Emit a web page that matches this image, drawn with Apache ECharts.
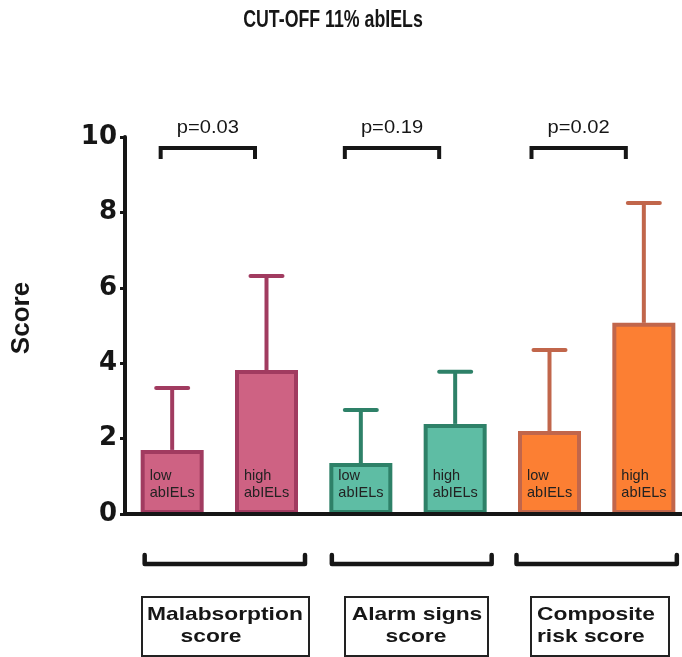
<!DOCTYPE html>
<html>
<head>
<meta charset="utf-8">
<script src="https://cdn.jsdelivr.net/npm/echarts@6/dist/echarts.min.js"></script>
<style>
  html, body { margin: 0; padding: 0; background: #ffffff; }
  #chart { width: 682px; height: 657px; }
</style>
</head>
<body>
<div id="chart"></div>
<script>
// ---- data ----
const chartTitle = 'CUT-OFF 11% abIELs';
const yAxisTitle = 'Score';
const categories = ['Malabsorption low', 'Malabsorption high', 'Alarm signs low', 'Alarm signs high', 'Composite low', 'Composite high'];
const barLabels = ['low\nabIELs', 'high\nabIELs', 'low\nabIELs', 'high\nabIELs', 'low\nabIELs', 'high\nabIELs'];
const meanScores = [1.70, 3.82, 1.35, 2.39, 2.20, 5.07];
const upperErrors = [3.34, 6.31, 2.76, 3.77, 4.35, 8.25];
const yTicks = [0, 2, 4, 6, 8, 10];
const pValues = ['p=0.03', 'p=0.19', 'p=0.02'];
const groupNames = [['Malabsorption', 'score'], ['Alarm signs', 'score'], ['Composite', 'risk score']];

// ---- styling ----
const fills   = ['#CE6283', '#CE6283', '#5EBDA4', '#5EBDA4', '#FC7F33', '#FC7F33'];
const borders = ['#A13B60', '#A13B60', '#2E8168', '#2E8168', '#C1664B', '#C1664B'];
const ink = '#161616';
const sans = '"Liberation Sans", Arial, sans-serif';

const chart = echarts.init(document.getElementById('chart'), null, { renderer: 'canvas' });

chart.setOption({
  animation: false,
  backgroundColor: '#ffffff',
  // the plotting band runs a little past the right edge of the canvas
  grid: { left: 125, top: 137, width: 566, height: 377, containLabel: false, outerBoundsMode: 'none' },
  xAxis: {
    type: 'category',
    data: categories,
    z: 10,
    axisLine: { lineStyle: { color: ink, width: 4 } },
    axisTick: { show: false },
    axisLabel: { show: false },
    splitLine: { show: false }
  },
  yAxis: {
    type: 'value',
    min: 0, max: 10, interval: 2,
    z: 10,
    axisLine: { show: true, lineStyle: { color: ink, width: 4 } },
    axisTick: { show: true, length: 5, lineStyle: { color: ink, width: 3 } },
    axisLabel: {
      margin: 8,
      fontFamily: '"DejaVu Sans", sans-serif', fontWeight: 'bold', fontSize: 26, color: ink,
      formatter: v => (yTicks.indexOf(v) >= 0 ? String(v) : '')
    },
    splitLine: { show: false }
  },
  series: [
    {
      type: 'bar',
      barWidth: 63,
      z: 3,
      data: meanScores.map((v, i) => ({
        value: v,
        itemStyle: { color: fills[i], borderColor: borders[i], borderWidth: 4 }
      })),
      label: {
        show: true,
        position: 'insideBottomLeft',
        distance: 9,
        offset: [0, -4],
        align: 'left',
        formatter: p => barLabels[p.dataIndex],
        fontFamily: sans, fontSize: 14.5, lineHeight: 17, color: '#222222'
      }
    },
    {
      // upper error whiskers (mean -> mean + SD) with a cap
      type: 'custom',
      z: 2,
      data: upperErrors.map((u, i) => [i, meanScores[i], u]),
      encode: { x: 0, y: [1, 2] },
      renderItem: (params, api) => {
        const i = params.dataIndex;
        const base = api.coord([api.value(0), api.value(1)]);
        const top = api.coord([api.value(0), api.value(2)]);
        const c = borders[i];
        return {
          type: 'group',
          children: [
            { type: 'line', shape: { x1: base[0], y1: base[1], x2: top[0], y2: top[1] },
              style: { stroke: c, lineWidth: 4 } },
            { type: 'line', shape: { x1: top[0] - 16, y1: top[1], x2: top[0] + 16, y2: top[1] },
              style: { stroke: c, lineWidth: 4, lineCap: 'round' } }
          ]
        };
      }
    }
  ]
});

// ---- annotations: titles, significance brackets, group brackets and name boxes ----
const cx = i => chart.convertToPixel({ xAxisIndex: 0 }, i);
const topShift = [-11.5, -16, -18];
const botLeft = [-27.5, -29, -33];
const botRight = [38.5, 36.5, 33];
const boxes = [[142, 309], [345, 488], [531, 669]];
const boxText = [
  [{ x: 147, align: 'left' }, { x: 211, align: 'center' }],
  [{ x: 417, align: 'center' }, { x: 416, align: 'center' }],
  [{ x: 537, align: 'left' }, { x: 537, align: 'left' }]
];

const graphics = [];
graphics.push({
  type: 'text', x: 333, y: 20, scaleX: 0.74,
  style: { text: chartTitle, x: 0, y: 0, align: 'center', verticalAlign: 'middle',
           fontFamily: sans, fontWeight: 'bold', fontSize: 24, fill: ink }
});
graphics.push({
  type: 'text', x: 22, y: 318, rotation: Math.PI / 2,
  style: { text: yAxisTitle, x: 0, y: 0, align: 'center', verticalAlign: 'middle',
           fontFamily: sans, fontWeight: 'bold', fontSize: 26, fill: ink }
});

for (let g = 0; g < 3; g++) {
  const lo = cx(2 * g), hi = cx(2 * g + 1);
  const x1 = lo + topShift[g], x2 = hi + topShift[g];
  graphics.push({
    type: 'polyline',
    shape: { points: [[x1, 159], [x1, 148], [x2, 148], [x2, 159]] },
    style: { stroke: ink, lineWidth: 4, fill: null, lineJoin: 'miter' }
  });
  graphics.push({
    type: 'text', x: (x1 + x2) / 2, y: 128, scaleX: 1.06,
    style: { text: pValues[g], x: 0, y: 0, align: 'center', verticalAlign: 'middle',
             fontFamily: sans, fontSize: 19, fill: ink }
  });

  const b1 = lo + botLeft[g], b2 = hi + botRight[g];
  graphics.push({
    type: 'polyline',
    shape: { points: [[b1, 555], [b1, 564], [b2, 564], [b2, 555]] },
    style: { stroke: ink, lineWidth: 4.5, fill: null, lineJoin: 'round', lineCap: 'round' }
  });

  const bx = boxes[g];
  graphics.push({
    type: 'rect',
    shape: { x: bx[0], y: 597, width: bx[1] - bx[0], height: 59 },
    style: { stroke: '#222222', lineWidth: 2, fill: null }
  });
  groupNames[g].forEach((line, k) => {
    graphics.push({
      type: 'text', x: boxText[g][k].x, y: 615 + k * 22, scaleX: 1.2,
      style: { text: line, x: 0, y: 0, align: boxText[g][k].align, verticalAlign: 'middle',
               fontFamily: sans, fontWeight: 'bold', fontSize: 19, fill: ink }
    });
  });
}

chart.setOption({ graphic: graphics });
</script>
</body>
</html>
